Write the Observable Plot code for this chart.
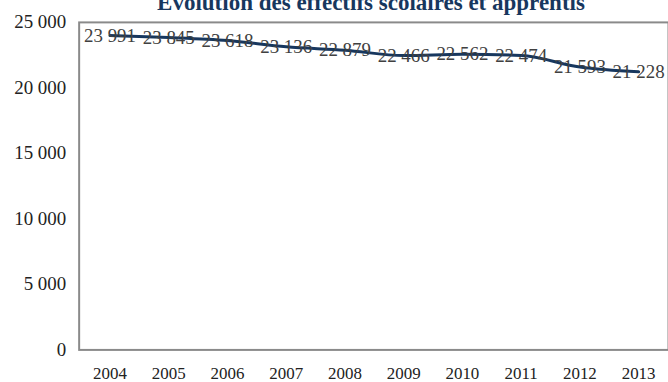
<!DOCTYPE html>
<html>
<head>
<meta charset="utf-8">
<script src="https://cdn.jsdelivr.net/npm/d3@7"></script>
<script src="https://cdn.jsdelivr.net/npm/@observablehq/plot@0.6"></script>
<style>
  html, body { margin: 0; padding: 0; background: #fff; overflow: hidden; }
  #wrap { position: relative; width: 668px; height: 382px; overflow: hidden; background: #fff; }
  #title {
    position: absolute; top: -9px; left: 371px; transform: translateX(-50%);
    white-space: nowrap; font-family: "Liberation Serif", "DejaVu Serif", serif;
    font-weight: bold; font-size: 23px; line-height: 23px; color: #17375E;
  }
  #chart { position: absolute; top: 0; left: 0; }
</style>
</head>
<body>
<div id="wrap">
  <div id="chart"></div>
  <div id="title">Évolution des effectifs scolaires et apprentis</div>
</div>
<script>
const years = ["2004","2005","2006","2007","2008","2009","2010","2011","2012","2013"];
const effectifs = [23991, 23845, 23618, 23136, 22879, 22466, 22562, 22474, 21593, 21228];
const yTicks = [0, 5000, 10000, 15000, 20000, 25000];
const titleText = "Évolution des effectifs scolaires et apprentis";

const fr = d3.formatLocale({decimal: ",", thousands: " ", grouping: [3], currency: ["", " €"]});
const fmt = fr.format(",d");

const data = years.map((y, i) => ({year: y, value: effectifs[i]}));
const serif = "Liberation Serif, DejaVu Serif, serif";

const plot = Plot.plot({
  width: 671,
  height: 382,
  marginLeft: 79,
  marginRight: 0,
  marginTop: 22,
  marginBottom: 31,
  style: {fontFamily: serif, background: "#fff", overflow: "visible"},
  x: {type: "point", domain: years, padding: 0.5, label: null},
  y: {domain: [0, 25000], label: null},
  marks: [
    Plot.frame({stroke: "#8a8a8a", strokeWidth: 2}),
    Plot.axisY({ticks: yTicks, tickSize: 0, tickPadding: 13, tickFormat: fmt, fontSize: 19, fill: "#222", label: null}),
    Plot.axisX({tickSize: 0, tickPadding: 17, fontSize: 17, fill: "#222", label: null}),
    Plot.line(data, {x: "year", y: "value", stroke: "#17375E", strokeWidth: 3, curve: "monotone-x"}),
    Plot.text(data, {x: "year", y: "value", text: d => fmt(d.value), fill: "#404040", fontSize: 19, fontFamily: serif})
  ]
});
document.getElementById("chart").appendChild(plot);
</script>
</body>
</html>
